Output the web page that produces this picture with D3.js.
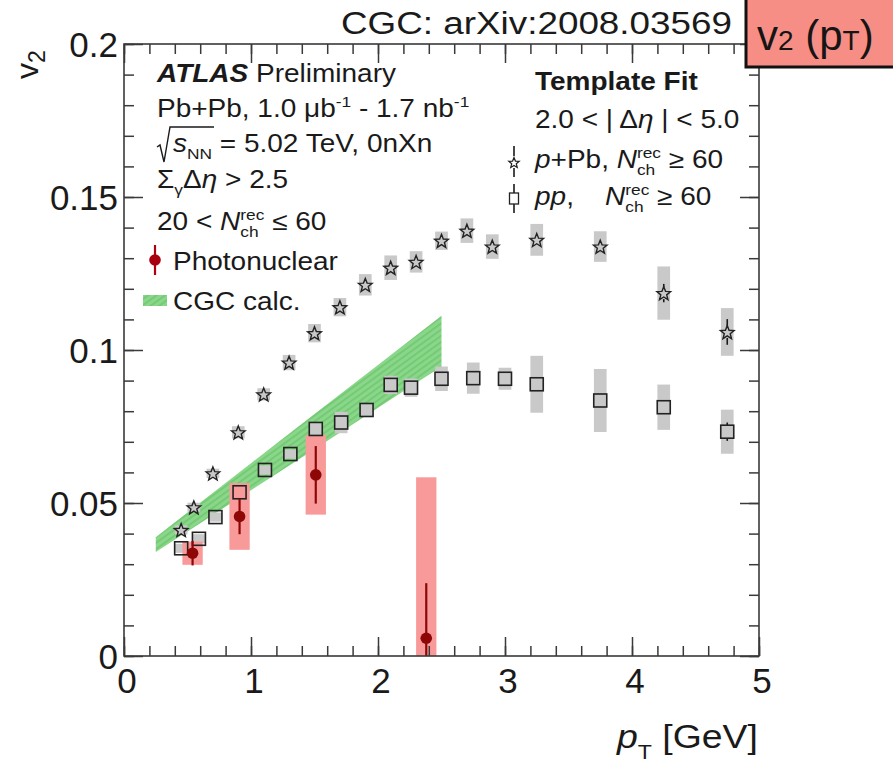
<!DOCTYPE html>
<html>
<head>
<meta charset="utf-8">
<script src="https://cdn.jsdelivr.net/npm/d3@7"></script>
<style>
  html, body { margin: 0; padding: 0; background: #fff; }
  svg { display: block; font-family: "Liberation Sans", Arial, Helvetica, sans-serif; }
  text { white-space: pre; }
</style>
</head>
<body>
<svg id="chart" width="893" height="764"></svg>
<script>
// ---- data ----
// p+Pb, N_ch^rec >= 60 (template fit)
const ppbPt   = [0.45, 0.55, 0.70, 0.90, 1.10, 1.30, 1.50, 1.70, 1.90, 2.10, 2.30, 2.50, 2.70, 2.90, 3.25, 3.75, 4.25, 4.75];
const ppbV2   = [0.0412, 0.0486, 0.0597, 0.0731, 0.0855, 0.0959, 0.1055, 0.1140, 0.1213, 0.1269, 0.1288, 0.1357, 0.1390, 0.1338, 0.1360, 0.1338, 0.1186, 0.1059];
const ppbStat = [0.0005, 0.0005, 0.0005, 0.0005, 0.0005, 0.0005, 0.0005, 0.0005, 0.0006, 0.0007, 0.0008, 0.0010, 0.0010, 0.0012, 0.0015, 0.0020, 0.0030, 0.0042];
const ppbSys  = [0.0015, 0.0015, 0.0015, 0.0020, 0.0020, 0.0025, 0.0030, 0.0030, 0.0035, 0.0040, 0.0035, 0.0030, 0.0040, 0.0040, 0.0052, 0.0050, 0.0087, 0.0078];

// pp, N_ch^rec >= 60 (template fit)
const ppPt   = [0.45, 0.59, 0.72, 0.91, 1.11, 1.31, 1.51, 1.71, 1.91, 2.10, 2.26, 2.50, 2.75, 3.00, 3.25, 3.75, 4.25, 4.75];
const ppV2   = [0.0352, 0.0383, 0.0454, 0.0535, 0.0608, 0.0660, 0.0742, 0.0763, 0.0804, 0.0886, 0.0877, 0.0906, 0.0908, 0.0906, 0.0888, 0.0835, 0.0813, 0.0733];
const ppStat = [0.0005, 0.0005, 0.0005, 0.0005, 0.0005, 0.0005, 0.0005, 0.0005, 0.0005, 0.0006, 0.0006, 0.0008, 0.0008, 0.0010, 0.0012, 0.0015, 0.0022, 0.0030];
const ppSys  = [0.0015, 0.0015, 0.0015, 0.0015, 0.0015, 0.0015, 0.0020, 0.0035, 0.0020, 0.0030, 0.0030, 0.0040, 0.0051, 0.0036, 0.0093, 0.0103, 0.0074, 0.0072];

// Photonuclear, 20 < N_ch^rec <= 60
const pnPt   = [0.54, 0.91, 1.51, 2.38];
const pnV2   = [0.0336, 0.0456, 0.0592, 0.0058];
const pnStat = [0.0040, 0.0058, 0.0094, 0.0180];
const pnSys  = [0.0038, 0.0109, 0.0130, 0.0526];

// CGC calculation band
const cgcPt = [0.25, 0.50, 1.00, 1.50, 2.00, 2.50];
const cgcHi = [0.0388, 0.0469, 0.0630, 0.0791, 0.0951, 0.1112];
const cgcLo = [0.0340, 0.0407, 0.0542, 0.0676, 0.0811, 0.0946];

// axes
const xTicks = [0, 1, 2, 3, 4, 5];
const xTickLabels = ["0", "1", "2", "3", "4", "5"];
const yTicks = [0, 0.05, 0.1, 0.15, 0.2];
const yTickLabels = ["0", "0.05", "0.1", "0.15", "0.2"];

// ---- layout ----
const L = 124, R = 759, T = 44, B = 656;
const x = d3.scaleLinear().domain([0, 5]).range([L, R]);
const y = d3.scaleLinear().domain([0, 0.2]).range([B, T]);
const svg = d3.select("#chart");
const ink = "#1a1a1a";
const frameCol = "#3a3a3a";

const defs = svg.append("defs");
defs.append("clipPath").attr("id", "plotClip")
  .append("rect").attr("x", L).attr("y", T).attr("width", R - L).attr("height", B - T);
const pat = defs.append("pattern").attr("id", "cgcHatch")
  .attr("patternUnits", "userSpaceOnUse").attr("width", 5).attr("height", 5)
  .attr("patternTransform", "rotate(-36)");
pat.append("rect").attr("width", 5).attr("height", 5).attr("fill", "#8ad68a");
pat.append("rect").attr("width", 5).attr("height", 1.8).attr("fill", "#72ca72");

// rich text: a run of segments with italics, super/subscripts and stacked indices
function rich(parent, x0, y0, parts, base) {
  const g = parent.append("g")
    .attr("transform", `translate(${x0},${y0}) scale(${base.sx || 1},1)`)
    .attr("fill", base.fill || ink);
  let cx = 0;
  for (const p of parts) {
    const mk = (txt, dy, sz) => g.append("text")
      .attr("x", cx).attr("y", dy).attr("font-size", sz)
      .attr("font-style", p.italic ? "italic" : null)
      .attr("font-weight", (p.bold || base.bold) ? "bold" : null)
      .text(txt);
    if (p.sup !== undefined || p.sub !== undefined) {
      let w = 0;
      const ss = base.size * (p.scale || 0.62);
      if (p.sup) w = Math.max(w, mk(p.sup, -base.size * 0.40, ss).node().getComputedTextLength());
      if (p.sub) w = Math.max(w, mk(p.sub, base.size * (p.subDy || 0.28), ss).node().getComputedTextLength());
      cx += w;
    } else {
      cx += mk(p.t, p.dy || 0, p.size || base.size).node().getComputedTextLength();
    }
  }
  return g;
}

// ---- CGC band ----
const plot = svg.append("g").attr("clip-path", "url(#plotClip)");
const bandIdx = d3.range(cgcPt.length);
plot.append("path")
  .attr("d", d3.area().x(i => x(cgcPt[i])).y0(i => y(cgcLo[i])).y1(i => y(cgcHi[i]))(bandIdx))
  .attr("fill", "url(#cgcHatch)");

// ---- systematic boxes ----
const greyBox = "#c9c9c9";
const sysBoxes = (pts, vals, sys, halfW, color) => {
  plot.append("g").selectAll("rect").data(d3.range(pts.length)).join("rect")
    .attr("x", i => x(pts[i] - halfW))
    .attr("width", i => x(pts[i] + halfW) - x(pts[i] - halfW))
    .attr("y", i => y(vals[i] + sys[i]))
    .attr("height", i => y(vals[i] - sys[i]) - y(vals[i] + sys[i]))
    .attr("fill", color);
};
sysBoxes(ppbPt, ppbV2, ppbSys, 0.05, greyBox);
sysBoxes(ppPt, ppV2, ppSys, 0.05, greyBox);
sysBoxes(pnPt, pnV2, pnSys, 0.08, "#f99a9a");

// ---- statistical bars outside the marker ----
function statBars(g, pts, vals, stat, r, color, w) {
  d3.range(pts.length).forEach(i => {
    const cx = x(pts[i]), cy = y(vals[i]);
    const top = y(vals[i] + stat[i]), bot = y(vals[i] - stat[i]);
    if (top < cy - r) g.append("line").attr("x1", cx).attr("x2", cx).attr("y1", top).attr("y2", cy - r)
      .attr("stroke", color).attr("stroke-width", w);
    if (bot > cy + r) g.append("line").attr("x1", cx).attr("x2", cx).attr("y1", cy + r).attr("y2", bot)
      .attr("stroke", color).attr("stroke-width", w);
  });
}

function starPath(ro, ri) {
  const pts = [];
  for (let k = 0; k < 10; k++) {
    const a = -Math.PI / 2 + k * Math.PI / 5;
    const rr = k % 2 ? ri : ro;
    pts.push([rr * Math.cos(a), rr * Math.sin(a)]);
  }
  return d3.line()(pts) + "Z";
}

// pp squares
const sq = 6.5;
statBars(plot, ppPt, ppV2, ppStat, sq, ink, 1.6);
plot.append("g").selectAll("rect").data(d3.range(ppPt.length)).join("rect")
  .attr("x", i => x(ppPt[i]) - sq).attr("y", i => y(ppV2[i]) - sq)
  .attr("width", 2 * sq).attr("height", 2 * sq)
  .attr("fill", "none").attr("stroke", "#222").attr("stroke-width", 1.6);

// p+Pb stars
statBars(plot, ppbPt, ppbV2, ppbStat, 6, ink, 1.6);
plot.append("g").selectAll("path").data(d3.range(ppbPt.length)).join("path")
  .attr("transform", i => `translate(${x(ppbPt[i])},${y(ppbV2[i]) + 0.8})`)
  .attr("d", starPath(7.2, 3.1))
  .attr("fill", "none").attr("stroke", "#222").attr("stroke-width", 1.4).attr("stroke-linejoin", "miter");

// photonuclear points
const pnCol = "#8e0707";
statBars(plot, pnPt, pnV2, pnStat, 0, pnCol, 2.2);
plot.append("g").selectAll("circle").data(d3.range(pnPt.length)).join("circle")
  .attr("cx", i => x(pnPt[i])).attr("cy", i => y(pnV2[i])).attr("r", 5.8)
  .attr("fill", pnCol);

// ---- frame and ticks ----
const minorY = d3.range(0, 0.2001, 0.01);
const minorX = d3.range(0, 5.001, 0.2);
const tickAxis = (axis, tr) => {
  const g = svg.append("g").attr("transform", tr).call(axis);
  g.select(".domain").remove();
  g.selectAll("line").attr("stroke", frameCol).attr("stroke-width", 1.5);
  g.selectAll("text").remove();
};
tickAxis(d3.axisLeft(y).tickValues(yTicks).tickSize(-19).tickFormat(""), `translate(${L},0)`);
tickAxis(d3.axisLeft(y).tickValues(minorY).tickSize(-10).tickFormat(""), `translate(${L},0)`);
tickAxis(d3.axisRight(y).tickValues(yTicks).tickSize(-19).tickFormat(""), `translate(${R},0)`);
tickAxis(d3.axisRight(y).tickValues(minorY).tickSize(-10).tickFormat(""), `translate(${R},0)`);
tickAxis(d3.axisBottom(x).tickValues(xTicks).tickSize(-19).tickFormat(""), `translate(0,${B})`);
tickAxis(d3.axisBottom(x).tickValues(minorX).tickSize(-10).tickFormat(""), `translate(0,${B})`);
tickAxis(d3.axisTop(x).tickValues(xTicks).tickSize(-19).tickFormat(""), `translate(0,${T})`);
tickAxis(d3.axisTop(x).tickValues(minorX).tickSize(-10).tickFormat(""), `translate(0,${T})`);
svg.append("rect").attr("x", L).attr("y", T).attr("width", R - L).attr("height", B - T)
  .attr("fill", "none").attr("stroke", frameCol).attr("stroke-width", 1.6);

// tick labels
svg.append("g").selectAll("text").data(yTicks).join("text")
  .attr("x", L - 6).attr("y", d => y(d) + 13)
  .attr("text-anchor", "end").attr("font-size", 35).attr("fill", ink)
  .text((d, i) => yTickLabels[i]);
svg.append("g").selectAll("text").data(xTicks).join("text")
  .attr("x", d => x(d) + 3).attr("y", B + 37)
  .attr("text-anchor", "middle").attr("font-size", 35).attr("fill", ink)
  .text((d, i) => xTickLabels[i]);

// axis titles
const yTitle = svg.append("g").attr("transform", "translate(38,79) rotate(-90)");
rich(yTitle, 0, 0, [{ t: "v" }, { sub: "2", scale: 0.72, subDy: 0.22 }], { size: 32 });
rich(svg, 617, 748, [{ t: "p", italic: true }, { sub: "T", subDy: 0.32 }, { t: " [GeV]" }], { size: 34, sx: 1.1 });

// ---- left legend ----
const lg = { size: 25, sx: 1.12 };
rich(svg, 157, 82, [{ t: "ATLAS", bold: true, italic: true }, { t: " Preliminary" }], lg);
rich(svg, 157, 117, [{ t: "Pb+Pb, 1.0 μb" }, { sup: "-1" }, { t: " - 1.7 nb" }, { sup: "-1" }], lg);
svg.append("path").attr("d", "M157,147 L160,145 L164,162 L170,127 L214,127")
  .attr("fill", "none").attr("stroke", ink).attr("stroke-width", 1.4);
rich(svg, 173, 152, [{ t: "s", italic: true }, { sub: "NN" }, { t: " = 5.02 TeV, 0nXn" }], lg);
rich(svg, 157, 188, [{ t: "Σ" }, { sub: "γ" }, { t: "Δ" }, { t: "η", italic: true }, { t: " > 2.5" }], lg);
rich(svg, 157, 230, [{ t: "20 < " }, { t: "N", italic: true }, { sup: "rec", sub: "ch" }, { t: " ≤ 60" }], lg);

svg.append("line").attr("x1", 155).attr("x2", 155).attr("y1", 245).attr("y2", 275)
  .attr("stroke", "#b00010").attr("stroke-width", 2.2);
svg.append("circle").attr("cx", 155).attr("cy", 260).attr("r", 5.8).attr("fill", "#a8000e");
rich(svg, 173, 270, [{ t: "Photonuclear" }], lg);
svg.append("rect").attr("x", 143).attr("y", 295).attr("width", 24).attr("height", 11)
  .attr("fill", "url(#cgcHatch)");
rich(svg, 173, 310, [{ t: "CGC calc." }], lg);

// ---- right legend ----
rich(svg, 535, 90, [{ t: "Template Fit" }], { size: 25, sx: 1.12, bold: true });
rich(svg, 535, 128, [{ t: "2.0 < | Δ" }, { t: "η", italic: true }, { t: " | < 5.0" }], lg);
// p+Pb entry
svg.append("line").attr("x1", 514).attr("x2", 514).attr("y1", 146).attr("y2", 156).attr("stroke", ink).attr("stroke-width", 1.6);
svg.append("line").attr("x1", 514).attr("x2", 514).attr("y1", 168).attr("y2", 177).attr("stroke", ink).attr("stroke-width", 1.6);
svg.append("path").attr("transform", "translate(514,163)").attr("d", starPath(5.5, 2.4))
  .attr("fill", "none").attr("stroke", "#222").attr("stroke-width", 1.2);
rich(svg, 535, 168, [{ t: "p", italic: true }, { t: "+Pb, " }, { t: "N", italic: true }, { sup: "rec", sub: "ch" }, { t: " ≥ 60" }], lg);
// pp entry
svg.append("line").attr("x1", 514).attr("x2", 514).attr("y1", 184).attr("y2", 193).attr("stroke", ink).attr("stroke-width", 1.6);
svg.append("line").attr("x1", 514).attr("x2", 514).attr("y1", 204).attr("y2", 213).attr("stroke", ink).attr("stroke-width", 1.6);
svg.append("rect").attr("x", 509.5).attr("y", 193).attr("width", 9).attr("height", 11)
  .attr("fill", "none").attr("stroke", "#222").attr("stroke-width", 1.3);
rich(svg, 535, 205, [{ t: "pp", italic: true }, { t: ",    " }, { t: "N", italic: true }, { sup: "rec", sub: "ch" }, { t: " ≥ 60" }], lg);

// ---- header ----
svg.append("text").attr("x", 341).attr("y", 34).attr("font-size", 31).attr("fill", ink)
  .attr("textLength", 391).attr("lengthAdjust", "spacingAndGlyphs")
  .text("CGC: arXiv:2008.03569");
svg.append("rect").attr("x", 746).attr("y", -4).attr("width", 160).attr("height", 71)
  .attr("fill", "#f78e85").attr("stroke", "#111").attr("stroke-width", 3);
rich(svg, 757, 50, [{ t: "v" }, { t: "2", size: 28 }, { t: " (p" }, { t: "T", size: 28 }, { t: ")" }], { size: 42, fill: "#151515" });
</script>
</body>
</html>
